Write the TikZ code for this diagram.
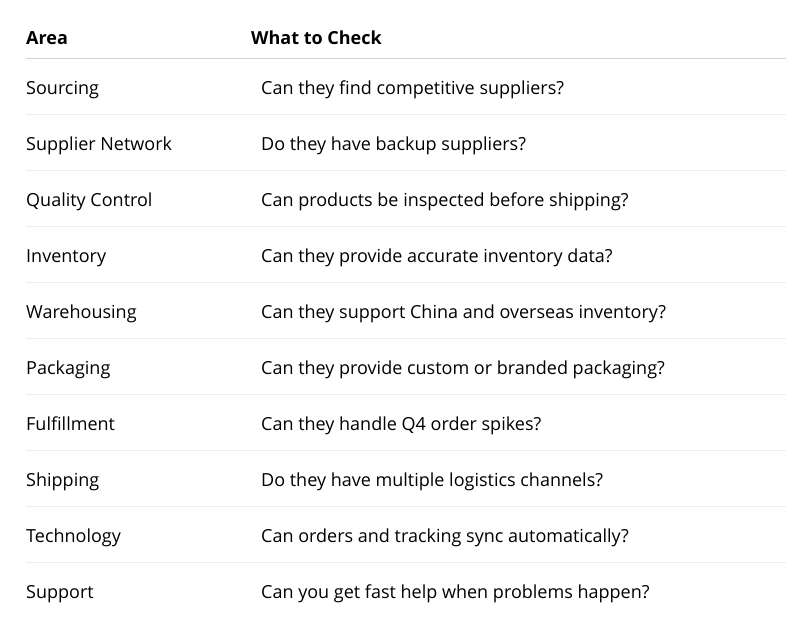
\documentclass[tikz,border=0pt]{standalone}
\usepackage{fontspec}
\setmainfont{Open Sans}
\begin{document}
\begin{tikzpicture}[x=1pt,y=-1pt,
  cell/.style={anchor=base west,inner sep=0pt,font=\fontsize{18}{21}\selectfont},
  head/.style={cell,font=\fontsize{18}{21}\selectfont\bfseries},
  hline/.style={draw=black!18,line width=1.2pt},
  rline/.style={draw=black!7,line width=1pt}]
\useasboundingbox (0,0) rectangle (804,619);
\node[head] (h1) at (26,44.5) {Area};
\node[head] (h2) at (251,44.5) {What to Check};
\draw[hline] (26,58.5) -- (786,58.5);
\foreach \i/\a/\b in {0/Sourcing/Can they find competitive suppliers?,
 1/Supplier Network/Do they have backup suppliers?,
 2/Quality Control/Can products be inspected before shipping?,
 3/Inventory/Can they provide accurate inventory data?,
 4/Warehousing/Can they support China and overseas inventory?,
 5/Packaging/Can they provide custom or branded packaging?,
 6/Fulfillment/Can they handle Q4 order spikes?,
 7/Shipping/Do they have multiple logistics channels?,
 8/Technology/Can orders and tracking sync automatically?,
 9/Support/Can you get fast help when problems happen?}{
  \node[cell] (a\i) at (26,94+56*\i) {\a};
  \node[cell] (b\i) at (261,94+56*\i) {\b};
}
\foreach \i in {0,...,8}{\draw[rline] (26,114.5+56*\i) -- (786,114.5+56*\i);}
\end{tikzpicture}
\end{document}
